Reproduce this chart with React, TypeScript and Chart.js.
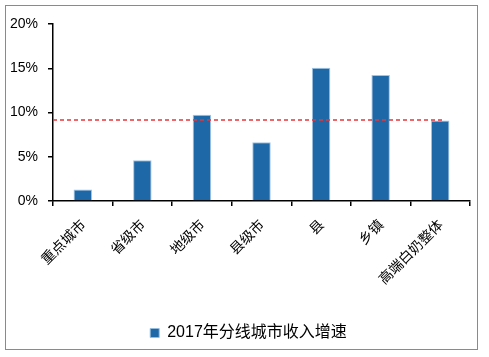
import React, { useEffect, useRef } from 'react';
import { Chart, registerables } from 'chart.js';

Chart.register(...registerables);

const categories = ['重点城市', '省级市', '地级市', '县级市', '县', '乡镇', '高端白奶整体'];
const growth = [1.3, 4.6, 9.75, 6.65, 15.05, 14.25, 9.1];
const seriesLabel = '2017年分线城市收入增速';
const avgLineValue = 9.15;
const avgLineX = [-0.5, 6.05];
const yMin = 0;
const yMax = 20;
const yStep = 5;

const legendShift = {
  id: 'legendShift',
  afterLayout(chart: any) {
    const lg = chart.legend;
    if (lg) {
      lg.left += 13.5;
      lg.right += 13.5;
    }
  },
};

export default function App() {
  const canvasRef = useRef<HTMLCanvasElement | null>(null);

  useEffect(() => {
    const canvas = canvasRef.current;
    if (!canvas) return;
    const chart = new Chart(canvas, {
      type: 'bar',
      data: {
        labels: categories,
        datasets: [
          {
            type: 'bar',
            label: seriesLabel,
            data: growth,
            backgroundColor: '#1e68a7',
            borderColor: 'rgba(150,190,225,0.9)',
            borderWidth: 1,
            grouped: false,
            barPercentage: 0.31,
            categoryPercentage: 1,
            order: 1,
          },
          {
            type: 'line',
            label: 'avg',
            data: avgLineX.map((x) => ({ x, y: avgLineValue })),
            xAxisID: 'x2',
            borderColor: '#e8353a',
            borderWidth: 1.5,
            borderDash: [4, 3],
            pointRadius: 0,
            fill: false,
            order: 0,
          } as any,
        ],
      },
      plugins: [legendShift],
      options: {
        animation: false,
        responsive: false,
        maintainAspectRatio: false,
        layout: { padding: { left: 0, right: 19, top: 24, bottom: 6 } },
        plugins: {
          tooltip: { enabled: false },
          legend: {
            position: 'bottom',
            labels: {
              filter: (item: any) => item.text === seriesLabel,
              boxWidth: 9,
              boxHeight: 9,
              padding: 10,
              color: '#000',
              font: { size: 16, family: '"Liberation Sans", "Noto Sans CJK SC", sans-serif' },
            },
          },
        },
        scales: {
          x: {
            type: 'category',
            offset: true,
            grid: {
              display: true,
              offset: true,
              drawOnChartArea: false,
              drawTicks: true,
              tickLength: 5,
              color: '#000',
              lineWidth: 1.5,
            },
            border: { display: true, color: '#000', width: 1.5 },
            ticks: {
              minRotation: 45,
              maxRotation: 45,
              autoSkip: false,
              padding: 10,
              color: '#000',
              font: { size: 14, family: '"Noto Sans CJK SC", sans-serif' },
            },
            afterFit: (scale: any) => {
              scale.height = 114;
            },
          },
          x2: {
            type: 'linear',
            display: false,
            offset: false,
            grid: { offset: false },
            min: -0.5,
            max: 6.5,
          },
          y: {
            min: yMin,
            max: yMax,
            grid: {
              display: true,
              drawOnChartArea: false,
              drawTicks: true,
              tickLength: 5,
              color: '#000',
              lineWidth: 1.5,
            },
            border: { display: true, color: '#000', width: 1.5 },
            ticks: {
              stepSize: yStep,
              padding: 10,
              color: '#000',
              font: { size: 14, family: '"Liberation Sans", Arial, sans-serif' },
              callback: (v: any) => v + '%',
            },
            afterFit: (scale: any) => {
              scale.width = 53;
            },
          },
        },
      },
    });
    return () => chart.destroy();
  }, []);

  return (
    <div style={{ position: 'fixed', left: 0, top: 0, width: 489, height: 357, background: '#fff' }}>
      <canvas ref={canvasRef} width={489} height={357} style={{ display: 'block', width: 489, height: 357 }} />
      <div
        style={{
          position: 'absolute',
          left: 5,
          top: 5,
          width: 473,
          height: 345,
          border: '1.5px solid #8a8a8a',
          boxSizing: 'border-box',
          pointerEvents: 'none',
        }}
      />
    </div>
  );
}
